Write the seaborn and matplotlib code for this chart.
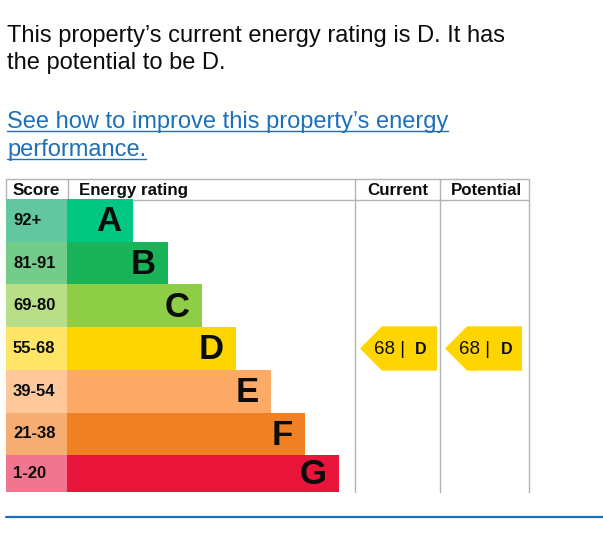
import matplotlib
matplotlib.use('Agg')
import matplotlib.pyplot as plt
import seaborn as sns
from matplotlib.patches import Polygon

# 数据
ratings = ['A', 'B', 'C', 'D', 'E', 'F', 'G']
score_bands = ['92+', '81-91', '69-80', '55-68', '39-54', '21-38', '1-20']
bar_widths = [66, 101, 135, 169, 204, 238, 272]
bar_colors = ['#00c781', '#19b459', '#8dce46', '#ffd500', '#fcaa65', '#ef8023', '#e9153b']
score_colors = ['#62c7a0', '#74cc8a', '#b8de87', '#ffe566', '#fec89b', '#f5ad71', '#f27590']
current_score = 68
current_rating = 'D'
potential_score = 68
potential_rating = 'D'

sns.set_style('white')
plt.rcParams['font.family'] = ['Liberation Sans', 'DejaVu Sans']

W, H = 603, 541
fig = plt.figure(figsize=(W / 100, H / 100), dpi=100)

# 背景坐标轴（像素坐标）
bg = fig.add_axes([0, 0, 1, 1])
bg.set_xlim(0, W)
bg.set_ylim(H, 0)
bg.axis('off')

txt_color = '#0b0c0c'
link_color = '#1d70b8'
grey = '#b1b4b6'

bg.text(7, 42, 'This property’s current energy rating is D. It has', fontsize=17, color=txt_color, va='baseline')
bg.text(7, 69, 'the potential to be D.', fontsize=17, color=txt_color, va='baseline')
link1 = bg.text(7, 128, 'See how to improve this property’s energy', fontsize=17, color=link_color, va='baseline')
link2 = bg.text(7, 156, 'performance.', fontsize=17, color=link_color, va='baseline')

# 表头
bg.plot([6, 529], [179, 179], color=grey, lw=1)
bg.plot([6, 529], [199.5, 199.5], color=grey, lw=1)
bg.plot([6, 6], [179, 200], color=grey, lw=1)
bg.plot([67.5, 67.5], [179, 200], color=grey, lw=1)
for xv in [355, 440, 528.5]:
    bg.plot([xv, xv], [179, 492], color=grey, lw=1)
bg.text(13, 190.5, 'Score', fontsize=12.3, fontweight='bold', color=txt_color, va='center')
bg.text(79, 190.5, 'Energy rating', fontsize=12.2, fontweight='bold', color=txt_color, va='center')
bg.text(397.7, 190.5, 'Current', fontsize=12.2, fontweight='bold', color=txt_color, va='center', ha='center')
bg.text(487, 190.5, 'Potential', fontsize=12.2, fontweight='bold', color=txt_color, va='center', ha='center')

# 底部蓝线
bg.plot([6, 603], [517, 517], color=link_color, lw=1.6)

# 柱状图坐标轴
ax = fig.add_axes([6 / W, 1 - 492 / H, (W - 6) / W, (492 - 199) / H])
ax.patch.set_alpha(0)
sns.barplot(x=bar_widths, y=ratings, hue=ratings, palette=bar_colors, width=1.0,
            orient='h', ax=ax, legend=False, saturation=1, dodge=False,
            linewidth=0, edgecolor='none')
ax.barh(range(len(ratings)), 61, left=-61, height=1.0, color=score_colors,
        linewidth=0, edgecolor='none')
ax.set_xlim(-61, W - 67)
# 最后一行稍矮
ax.set_ylim(len(ratings) - 0.64, -0.5)
ax.axis('off')

for i, (r, w, s) in enumerate(zip(ratings, bar_widths, score_bands)):
    yc = i if i < len(ratings) - 1 else i - 0.07
    ax.text(w - 12, yc + 0.03, r, fontsize=25, fontweight='bold', color=txt_color, ha='right', va='center')
    ax.text(-54, yc, s, fontsize=12, fontweight='bold', color=txt_color, ha='left', va='center')


def draw_arrow(x_tip, score, rating):
    row = ratings.index(rating)
    color = bar_colors[row]
    pts = [(x_tip, row), (x_tip + 22, row - 0.52), (x_tip + 77, row - 0.52),
           (x_tip + 77, row + 0.52), (x_tip + 22, row + 0.52)]
    ax.add_patch(Polygon(pts, closed=True, color=color, lw=0))
    ax.text(x_tip + 14, row + 0.02, f'{score} |', fontsize=13.5, color=txt_color, ha='left', va='center')
    ax.text(x_tip + 67, row + 0.02, rating, fontsize=11.5, fontweight='bold', color=txt_color, ha='right', va='center')


draw_arrow(360 - 67, current_score, current_rating)
draw_arrow(445 - 67, potential_score, potential_rating)

# 链接下划线
fig.canvas.draw()
renderer = fig.canvas.get_renderer()
inv = bg.transData.inverted()
for t, y in [(link1, 131), (link2, 159)]:
    bb = t.get_window_extent(renderer)
    x0 = inv.transform((bb.x0, 0))[0]
    x1 = inv.transform((bb.x1, 0))[0]
    bg.plot([x0, x1], [y, y], color=link_color, lw=1)

fig.savefig('out.png', dpi=100)
